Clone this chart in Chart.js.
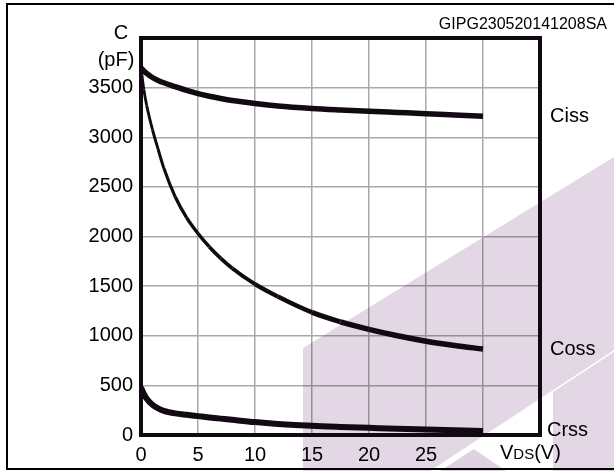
<!DOCTYPE html>
<html>
<head>
<meta charset="utf-8">
<script src="https://cdn.jsdelivr.net/npm/chart.js@4.4.0/dist/chart.umd.min.js"></script>
<style>
  html, body { margin: 0; padding: 0; background: #fff; }
  #wrap { width: 614px; height: 471px; }
</style>
</head>
<body>
<div id="wrap"><canvas id="grafico" width="614" height="471"></canvas></div>
<script>
// Datos (VDS en V, capacidades en pF)
const vds  = [0, 0.25, 0.5, 1, 1.5, 2, 3, 4, 5, 6, 7, 8, 10, 12, 15, 17.5, 20, 22.5, 25, 27.5, 30];
const ciss = [3700, 3668, 3643, 3602, 3573, 3549, 3510, 3472, 3440, 3413, 3390, 3370, 3340, 3315, 3290, 3275, 3262, 3250, 3238, 3225, 3212];
const coss = [3700, 3480, 3320, 3080, 2880, 2690, 2400, 2190, 2030, 1895, 1780, 1680, 1520, 1395, 1235, 1140, 1065, 1000, 945, 902, 866];
const crss = [480, 415, 365, 305, 268, 244, 218, 203, 190, 177, 165, 153, 130, 112, 92, 81, 72, 63, 55, 47, 40];

const xTicks = [0, 5, 10, 15, 20, 25];
const yTicks = [0, 500, 1000, 1500, 2000, 2500, 3000, 3500];
const nombres = ['Ciss', 'Coss', 'Crss'];
const codigo = 'GIPG230520141208SA';

const FUENTE = '"Liberation Sans", Arial, sans-serif';
const NEGRO = '#120a12';

function puntos(ys) {
    return vds.map((x, i) => ({ x: x, y: ys[i] }));
}

// marca de agua (logo) encima de todo, en modo multiply
const marcaAgua = {
    id: 'marcaAgua',
    afterDraw(chart) {
        const c = chart.ctx;
        c.save();
        c.globalCompositeOperation = 'multiply';
        const poly = (pts, col) => {
            c.fillStyle = col;
            c.beginPath();
            pts.forEach((p, i) => i ? c.lineTo(p[0], p[1]) : c.moveTo(p[0], p[1]));
            c.closePath();
            c.fill();
        };
        poly([[303, 348], [614, 157], [614, 350], [430, 471], [303, 471]], '#e3d6e5');
        poly([[553, 392], [614, 352], [614, 471], [553, 471]], '#e3d6e5');
        poly([[440, 471], [474, 449], [506, 471]], '#dcd3de');
        c.restore();
    }
};

// textos, marco exterior y borde del area de trazado
const extras = {
    id: 'extras',
    beforeDraw(chart) {
        const c = chart.ctx;
        c.save();
        c.fillStyle = '#fff';
        c.fillRect(0, 0, chart.width, chart.height);
        c.strokeStyle = '#000';
        c.lineWidth = 2;
        c.strokeRect(7, 4, 700, 465);
        c.restore();
    },
    afterDatasetsDraw(chart) {
        const c = chart.ctx;
        const a = chart.chartArea;
        const y = chart.scales.y;
        c.save();
        // borde del area
        c.strokeStyle = NEGRO;
        c.lineWidth = 4;
        c.strokeRect(a.left, a.top, a.right - a.left, a.bottom - a.top);

        c.fillStyle = '#000';
        c.textBaseline = 'middle';
        c.font = '16px ' + FUENTE;
        c.textAlign = 'right';
        c.fillText(codigo, 607, 25);

        c.font = '20px ' + FUENTE;
        c.textAlign = 'center';
        c.fillText('C', 121, 33);
        c.fillText('(pF)', 116, 60);

        // etiquetas de las curvas
        c.textAlign = 'left';
        const yEnd = [ciss, coss, crss].map(s => y.getPixelForValue(s[s.length - 1]));
        c.fillText(nombres[0], 550, yEnd[0]);
        c.fillText(nombres[1], 550, yEnd[1]);
        c.fillText(nombres[2], 547, 430);

        // titulo eje x: VDS(V)
        const by = 453;
        let x = 500;
        c.fillText('V', x, by);
        x += c.measureText('V').width;
        c.font = '15px ' + FUENTE;
        c.fillText('DS', x, by + 2);
        x += c.measureText('DS').width;
        c.font = '20px ' + FUENTE;
        c.fillText('(V)', x, by);
        c.restore();
    }
};

const estilo = (w) => ({
    borderColor: NEGRO,
    borderWidth: w,
    pointRadius: 0,
    fill: false,
    cubicInterpolationMode: 'monotone',
    borderCapStyle: 'butt',
    borderJoinStyle: 'round'
});

new Chart(document.getElementById('grafico').getContext('2d'), {
    type: 'line',
    data: {
        datasets: [
            Object.assign({ label: nombres[0], data: puntos(ciss) }, estilo(5.5)),
            Object.assign({ label: nombres[1], data: puntos(coss) }, estilo(4), {
                segment: {
                    borderWidth: ctx => Math.min(5.5, 2.8 + ctx.p0.parsed.x * 0.15)
                }
            }),
            Object.assign({ label: nombres[2], data: puntos(crss) }, estilo(6))
        ]
    },
    options: {
        responsive: false,
        animation: false,
        layout: { padding: { left: 0, top: 38, right: 74, bottom: 0 } },
        plugins: {
            legend: { display: false },
            tooltip: { enabled: false }
        },
        scales: {
            x: {
                type: 'linear',
                min: 0,
                max: 35,
                afterFit: s => { s.height = 36; },
                afterBuildTicks: s => { s.ticks = [0, 5, 10, 15, 20, 25, 30, 35].map(v => ({ value: v })); },
                grid: { color: '#a9a9a9', lineWidth: 1.5, drawTicks: false },
                border: { display: false },
                ticks: {
                    padding: 8,
                    color: '#000',
                    font: { family: FUENTE, size: 20 },
                    maxRotation: 0,
                    callback: v => xTicks.includes(v) ? String(v) : ''
                }
            },
            y: {
                min: 0,
                max: 4000,
                afterFit: s => { s.width = 141; },
                afterBuildTicks: s => { s.ticks = yTicks.concat([4000]).map(v => ({ value: v })); },
                grid: { color: '#a9a9a9', lineWidth: 1.5, drawTicks: false },
                border: { display: false },
                ticks: {
                    padding: 8,
                    color: '#000',
                    font: { family: FUENTE, size: 20 },
                    callback: v => yTicks.includes(v) ? String(v) : ''
                }
            }
        }
    },
    plugins: [extras, marcaAgua]
});
</script>
</body>
</html>
